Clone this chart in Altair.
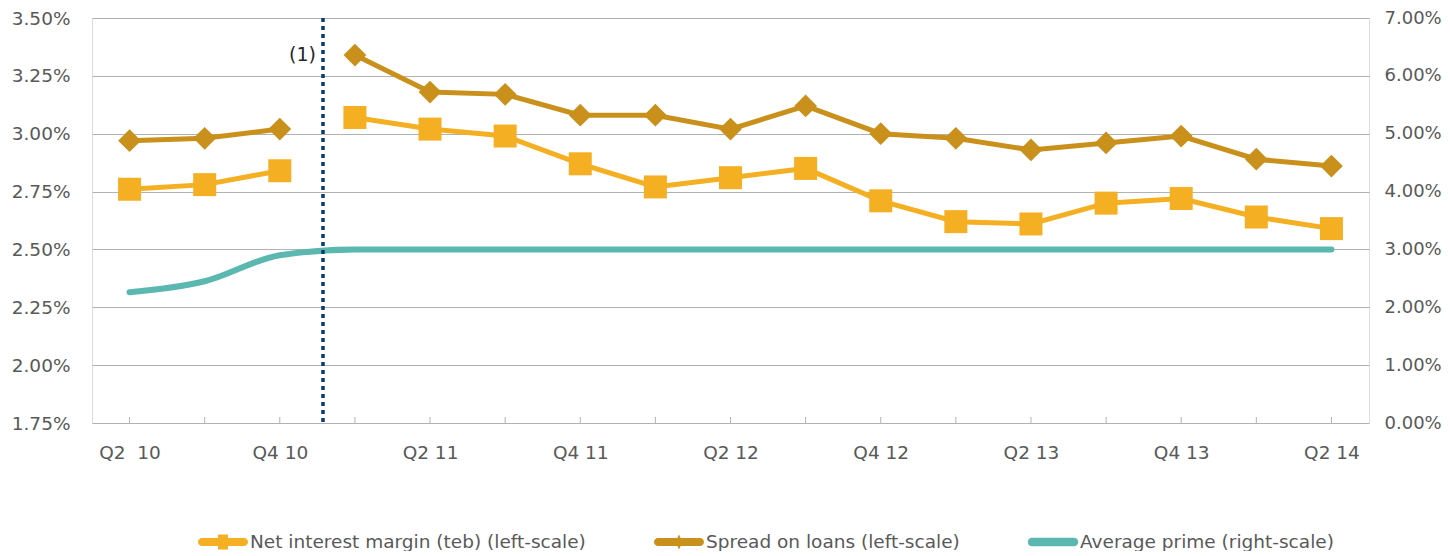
import json
import altair as alt
import pandas as pd

# ---------------- data ----------------
quarters = ["Q2 10", "Q3 10", "Q4 10", "Q1 11", "Q2 11", "Q3 11", "Q4 11", "Q1 12",
            "Q2 12", "Q3 12", "Q4 12", "Q1 13", "Q2 13", "Q3 13", "Q4 13", "Q1 14", "Q2 14"]
tick_labels = ["Q2\u00a0 10", "", "Q4 10", "", "Q2 11", "", "Q4 11", "", "Q2 12", "",
               "Q4 12", "", "Q2 13", "", "Q4 13", "", "Q2 14"]
nim = [2.76, 2.78, 2.84, 3.07, 3.02, 2.99, 2.87, 2.77, 2.81, 2.85, 2.71, 2.62, 2.61,
       2.70, 2.72, 2.64, 2.59]
spread = [2.97, 2.98, 3.02, 3.34, 3.18, 3.17, 3.08, 3.08, 3.02, 3.12, 3.00, 2.98, 2.93,
          2.96, 2.99, 2.89, 2.86]
prime = [2.26, 2.45, 2.90, 3.00, 3.00, 3.00, 3.00, 3.00, 3.00, 3.00, 3.00, 3.00, 3.00,
         3.00, 3.00, 3.00, 3.00]
segment = [0, 0, 0] + [1] * 14
series_names = ["Net interest margin (teb) (left-scale)", "Spread on loans (left-scale)",
                "Average prime (right-scale)"]
series_colors = ["#F5AF22", "#C9901B", "#5BB8B0"]
left_ticks = [1.75, 2.00, 2.25, 2.50, 2.75, 3.00, 3.25, 3.50]
right_ticks = [0, 1, 2, 3, 4, 5, 6, 7]
break_pos = [2.575]
note = ["(1)"]

# ---------------- style ----------------
W, H = 1277, 405
FONT = "DejaVu Sans"
LABEL = "#595959"
GRID = "#B2B2B2"
AX_FS = 18.5

rows = []
for i, q in enumerate(quarters):
    rows.append(dict(idx=i, q=q, seg=segment[i], series=series_names[0], value=nim[i]))
    rows.append(dict(idx=i, q=q, seg=segment[i], series=series_names[1], value=spread[i]))
left_df = pd.DataFrame(rows)
prime_df = pd.DataFrame(dict(idx=list(range(len(quarters))), q=quarters,
                             series=series_names[2], value=prime))
ticks_df = pd.DataFrame(dict(idx=list(range(len(quarters)))))
rule_df = pd.DataFrame(dict(idx=break_pos, note=note))

x_enc = alt.X(
    "idx:Q",
    scale=alt.Scale(domain=[-0.5, len(quarters) - 0.5], nice=False, zero=False),
    axis=alt.Axis(values=list(range(len(quarters))),
                  labelExpr=json.dumps(tick_labels) + "[datum.value]",
                  title=None, grid=False, domain=False, ticks=False, labelPadding=20,
                  labelFont=FONT, labelFontSize=18.5, labelColor=LABEL, labelOverlap=False),
)

paths = [
    "M-0.84,-0.16L0.84,-0.16A0.16,0.16 0 0 1 0.84,0.16L-0.84,0.16A0.16,0.16 0 0 1 -0.84,-0.16Z "
    "M-0.2,-0.3L0.2,-0.3L0.2,0.3L-0.2,0.3Z",
    "M-0.84,-0.16L0.84,-0.16A0.16,0.16 0 0 1 0.84,0.16L-0.84,0.16A0.16,0.16 0 0 1 -0.84,-0.16Z "
    "M0,-0.3L0.14,0L0,0.3L-0.14,0Z",
    "M-0.84,-0.17L0.84,-0.17A0.17,0.17 0 0 1 0.84,0.17L-0.84,0.17A0.17,0.17 0 0 1 -0.84,-0.17Z",
]
shape_expr = (f"datum.value === {json.dumps(series_names[0])} ? {json.dumps(paths[0])} : "
              f"datum.value === {json.dumps(series_names[1])} ? {json.dumps(paths[1])} : "
              f"{json.dumps(paths[2])}")
fill_expr = (f"datum.value === {json.dumps(series_names[0])} ? {json.dumps(series_colors[0])} : "
             f"datum.value === {json.dumps(series_names[1])} ? {json.dumps(series_colors[1])} : "
             f"{json.dumps(series_colors[2])}")

legend = alt.Legend(
    orient="none", legendX=106, legendY=514, direction="horizontal", columns=3,
    title=None, labelFont=FONT, labelFontSize=18.5, labelColor=LABEL, labelLimit=500,
    columnPadding=68, symbolSize=2500, clipHeight=20, labelOffset=2,
    symbolType={"expr": shape_expr}, symbolFillColor={"expr": fill_expr},
    symbolStrokeWidth=0, symbolOpacity=1,
)
color_enc = alt.Color("series:N", scale=alt.Scale(domain=series_names, range=series_colors),
                      legend=legend)

y_left = alt.Y(
    "value:Q",
    scale=alt.Scale(domain=[left_ticks[0], left_ticks[-1]], nice=False, zero=False),
    axis=alt.Axis(values=left_ticks, labelExpr="format(datum.value, '.2f') + '%'",
                  title=None, grid=True, gridColor=GRID, gridWidth=1, domain=False,
                  ticks=False, labelPadding=22, labelFont=FONT, labelFontSize=AX_FS,
                  labelColor=LABEL),
)
y_right = alt.Y(
    "value:Q",
    scale=alt.Scale(domain=[right_ticks[0], right_ticks[-1]], nice=False, zero=False),
    axis=alt.Axis(values=right_ticks, orient="right",
                  labelExpr="format(datum.value, '.2f') + '%'",
                  title=None, grid=False, domain=False, ticks=False, labelPadding=15,
                  labelFont=FONT, labelFontSize=18, labelColor=LABEL),
)

inner_ticks = alt.Chart(ticks_df).mark_rule(color=GRID, strokeWidth=1).encode(
    x=x_enc, y=alt.value(H - 6), y2=alt.value(H))

lines = alt.Chart(left_df).mark_line(strokeWidth=5).encode(
    x=x_enc, y=y_left, color=color_enc, detail="seg:N")

squares = alt.Chart(left_df).transform_filter(
    alt.datum.series == series_names[0]
).mark_point(shape="square", filled=True, size=529, opacity=1).encode(
    x=x_enc, y=y_left, color=color_enc)

diamonds = alt.Chart(left_df).transform_filter(
    alt.datum.series == series_names[1]
).mark_point(shape="diamond", filled=True, size=520, opacity=1).encode(
    x=x_enc, y=y_left, color=color_enc)

left_group = alt.layer(inner_ticks, lines, squares, diamonds)

prime_line = alt.Chart(prime_df).mark_line(strokeWidth=6, strokeCap="round",
                                           interpolate="monotone").encode(
    x=x_enc, y=y_right, color=color_enc)

divider = alt.Chart(rule_df).mark_rule(color="#0B3A6E", strokeWidth=3.5,
                                       strokeDash=[4, 4]).encode(
    x=x_enc, y=alt.value(0), y2=alt.value(H))
note_text = alt.Chart(rule_df).mark_text(align="right", baseline="middle", dx=-7,
                                         font=FONT, fontSize=19, color="#262626").encode(
    x=x_enc, y=alt.value(37), text="note:N")

chart = alt.layer(left_group, prime_line, divider, note_text).resolve_scale(
    y="independent"
).properties(
    width=W, height=H,
    autosize=alt.AutoSizeParams(type="none"),
    padding={"left": 84, "top": 10, "right": 74, "bottom": 128},
).configure_view(stroke="#A6A6A6", strokeWidth=1).configure(background="white")

chart.save("out.html", embed_options={"renderer": "svg", "actions": False})
